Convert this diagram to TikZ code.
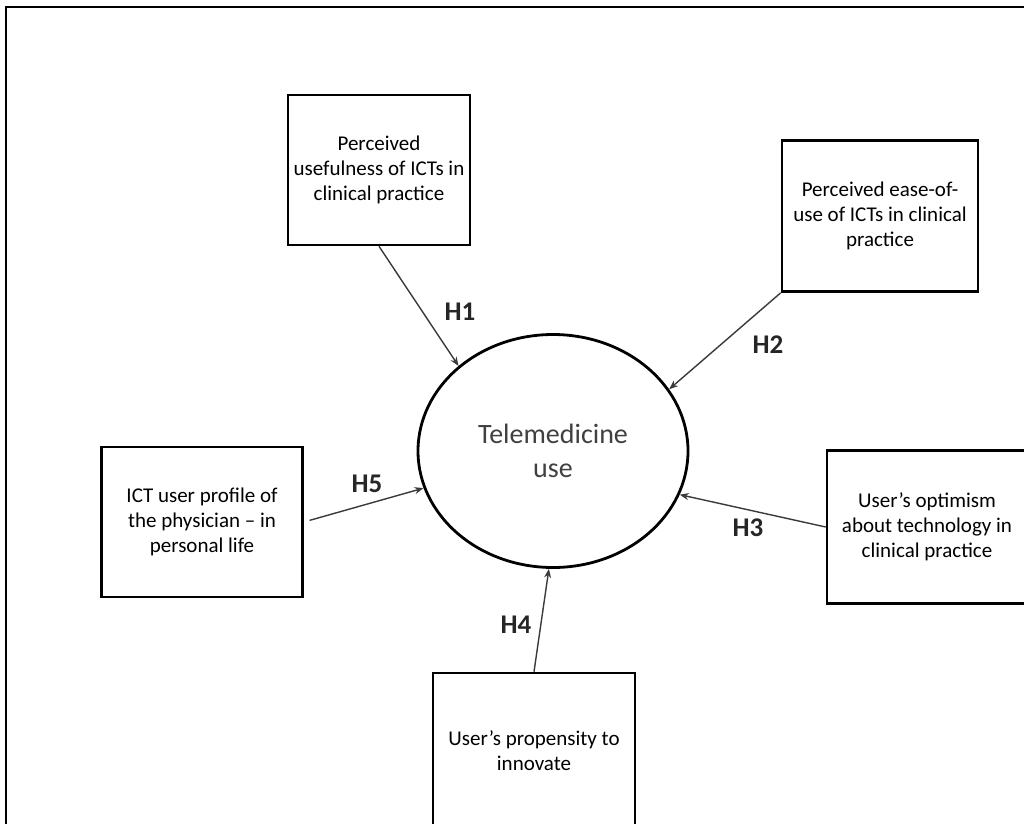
\documentclass[tikz,border=0pt]{standalone}
\usepackage{fontspec}
\setmainfont{Carlito}
\usetikzlibrary{shapes.geometric,arrows.meta}
\definecolor{arrowgray}{HTML}{3A3A3A}
\definecolor{textgray}{HTML}{404040}

\begin{document}
\begin{tikzpicture}[x=1pt, y=-1pt,
    factor/.style={draw, line width=2.6pt, align=center, inner sep=0pt,
        font=\fontsize{21}{25}\selectfont},
    hyp/.style={font=\fontsize{27}{30}\selectfont\bfseries, text=black!85},
    link/.style={-{Stealth[length=9pt, width=7pt]}, line width=1.4pt, draw=arrowgray}]
    \clip (0, 0) rectangle (1024, 823);
    \fill[white] (0, 0) rectangle (1024, 823);
    \draw[line width=2pt] (6, 830) -- (6, 7) -- (1030, 7);

    \node[ellipse, draw, line width=2.8pt, minimum width=270, minimum height=233,
        align=center, text=textgray, font=\fontsize{28}{34}\selectfont] (tele) at (553, 451) {Telemedicine\\use};

    \node[factor, minimum width=182, minimum height=150] (useful) at (379, 170) {Perceived\\usefulness of ICTs in\\clinical practice};
    \node[factor, minimum width=196, minimum height=151] (ease) at (880, 216) {Perceived ease-of-\\use of ICTs in clinical\\practice};
    \node[factor, minimum width=201, minimum height=150] (profile) at (202, 522) {ICT user profile of\\the physician -- in\\personal life};
    \node[factor, minimum width=200, minimum height=153] (optim) at (927, 527) {User’s optimism\\about technology in\\clinical practice};
    \node[factor, minimum width=202, minimum height=156] (innov) at (534, 751) {User’s propensity to\\innovate};

    \node[hyp] (h1) at (460, 312) {H1};
    \node[hyp] (h2) at (768, 345) {H2};
    \node[hyp] (h3) at (748, 528) {H3};
    \node[hyp] (h4) at (516, 625) {H4};
    \node[hyp] (h5) at (367, 484) {H5};

    \draw[link] (useful.south) -- (tele.138);
    \draw[link] (ease.south west) -- (tele.28);
    \draw[link] (optim.west) -- (tele.-19);
    \draw[link] (innov.north) -- (tele.-92);
    \draw[link, shorten <=6pt] (profile.east) -- (tele.196);
\end{tikzpicture}
\end{document}
